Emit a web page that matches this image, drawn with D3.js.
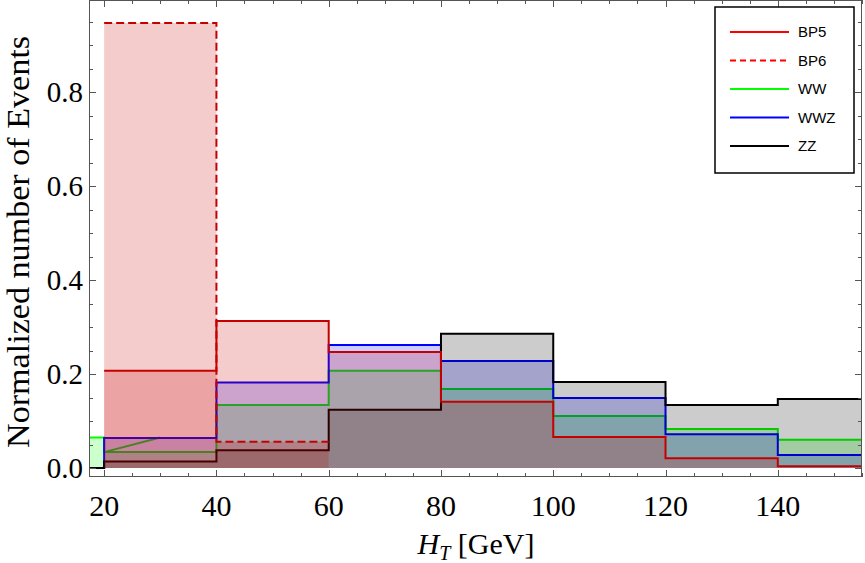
<!DOCTYPE html>
<html>
<head>
<meta charset="utf-8">
<script src="https://cdn.jsdelivr.net/npm/d3@7"></script>
<style>
  body { margin: 0; background: #fff; }
  svg { display: block; }
</style>
</head>
<body>
<svg id="chart"></svg>
<script>
// bin edges of the H_T histogram (GeV)
var binEdges = [0, 20, 40, 60, 80, 100, 120, 140, 160]
// normalized counts per bin, null = bin not plotted
var bp5 = [null, 0.207, 0.313, 0.247, 0.141, 0.066, 0.021, 0.004]
var bp6 = [null, 0.947, 0.056, null, null, null, null, null]
var ww  = [0.065, 0.034, 0.134, 0.207, 0.168, 0.111, 0.083, 0.060]
var wwz = [0, 0.064, 0.182, 0.262, 0.228, 0.149, 0.072, 0.028]
var zz  = [0, 0.014, 0.038, 0.124, 0.286, 0.183, 0.134, 0.147]

var xTicks = [20, 40, 60, 80, 100, 120, 140]
var yTicks = [0, 0.2, 0.4, 0.6, 0.8]
var legendNames = ['BP5', 'BP6', 'WW', 'WWZ', 'ZZ']

var width = 865, height = 563
var plotL = 89, plotR = 862, plotT = 0, plotB = 477

var svg = d3.select('#chart')
    .attr('width', width)
    .attr('height', height)

var x = d3.scaleLinear().domain([17.3, 155]).range([plotL, plotR])
var y = d3.scaleLinear().domain([-0.019, 0.996]).range([plotB, plotT])

svg.append('defs').append('clipPath').attr('id', 'plotclip')
    .append('rect')
    .attr('x', plotL).attr('y', plotT)
    .attr('width', plotR - plotL).attr('height', plotB - plotT)

// turn a list of bin values into step points
function steps(vals) {
    var pts = []
    vals.forEach(function(v, i) {
        if (v === null) return
        pts.push([binEdges[i], v])
        pts.push([binEdges[i + 1], v])
    })
    return pts
}

var line = d3.line().x(function(d) { return x(d[0]) }).y(function(d) { return y(d[1]) })
var area = d3.area().x(function(d) { return x(d[0]) }).y0(y(0)).y1(function(d) { return y(d[1]) })

var plot = svg.append('g').attr('clip-path', 'url(#plotclip)')

// drawing order matters: later fills tint earlier lines
var series = [
    {vals: ww,  line: '#00ff00', fill: 'rgba(0,255,0,0.2)'},
    {vals: wwz, line: '#0000ff', fill: 'rgba(0,0,255,0.2)'},
    {vals: zz,  line: '#000000', fill: 'rgba(0,0,0,0.2)'},
    {vals: bp5, line: '#c40000', fill: 'rgba(200,0,0,0.2)'},
    {vals: bp6, line: '#c40000', fill: 'rgba(200,0,0,0.2)', dash: '8,4'}
]

series.forEach(function(s) {
    var pts = steps(s.vals)
    plot.append('path')
        .attr('d', area(pts))
        .attr('fill', s.fill)
    plot.append('path')
        .attr('d', line(pts))
        .attr('fill', 'none')
        .attr('stroke', s.line)
        .attr('stroke-width', 2)
        .attr('stroke-dasharray', s.dash || null)
    if (s.vals === ww) {
        // little joining stroke the original plot draws in the first bins
        plot.append('path')
            .attr('d', line([[binEdges[1], ww[1]], [(binEdges[1] + binEdges[2]) / 2, ww[0]]]))
            .attr('fill', 'none')
            .attr('stroke', s.line)
            .attr('stroke-width', 2)
    }
})

// frame with ticks on all four sides
var frameColor = '#555'
svg.append('rect')
    .attr('x', plotL + 0.5).attr('y', plotT + 0.5)
    .attr('width', plotR - plotL - 1).attr('height', plotB - plotT - 1)
    .attr('fill', 'none')
    .attr('stroke', frameColor)
    .attr('stroke-width', 1)

var xMinor = d3.range(20, 156, 5)
var yMinor = d3.range(0, 0.99, 0.05)

var tickG = svg.append('g').attr('stroke', frameColor).attr('stroke-width', 1)
xMinor.forEach(function(v) {
    var major = xTicks.indexOf(v) >= 0
    var len = major ? 7 : 4
    var px = Math.round(x(v)) + 0.5
    tickG.append('line').attr('x1', px).attr('x2', px).attr('y1', plotB).attr('y2', plotB - len)
    tickG.append('line').attr('x1', px).attr('x2', px).attr('y1', plotT).attr('y2', plotT + len)
})
yMinor.forEach(function(v, i) {
    var major = i % 4 === 0
    var len = major ? 7 : 4
    var py = Math.round(y(v)) + 0.5
    tickG.append('line').attr('x1', plotL).attr('x2', plotL + len).attr('y1', py).attr('y2', py)
    tickG.append('line').attr('x1', plotR).attr('x2', plotR - len).attr('y1', py).attr('y2', py)
})

var serif = '"Liberation Serif", "Times New Roman", serif'

svg.selectAll('.xlab').data(xTicks).enter().append('text')
    .attr('x', function(d) { return x(d) })
    .attr('y', 516)
    .attr('text-anchor', 'middle')
    .attr('font-family', serif)
    .attr('font-size', 30)
    .text(function(d) { return d })

svg.selectAll('.ylab').data(yTicks).enter().append('text')
    .attr('x', 83)
    .attr('y', function(d) { return y(d) })
    .attr('dy', '0.35em')
    .attr('text-anchor', 'end')
    .attr('font-family', serif)
    .attr('font-size', 29)
    .text(function(d) { return d3.format('.1f')(d) })

// axis titles
svg.append('text')
    .attr('transform', 'translate(29,' + 242 + ') rotate(-90)')
    .attr('text-anchor', 'middle')
    .attr('font-family', serif)
    .attr('font-size', 31)
    .attr('textLength', 412)
    .attr('lengthAdjust', 'spacingAndGlyphs')
    .text('Normalized number of Events')

var xt = svg.append('text')
    .attr('x', 476)
    .attr('y', 554)
    .attr('text-anchor', 'middle')
    .attr('font-family', serif)
    .attr('font-size', 30)
xt.append('tspan').attr('font-style', 'italic').text('H')
xt.append('tspan').attr('font-style', 'italic').attr('font-size', 20).attr('dy', 6).text('T')
xt.append('tspan').attr('dy', -6).text(' [GeV]')

// legend
var legendColors = ['#ff0000', '#ff0000', '#00ff00', '#0000ff', '#000000']
var legend = svg.append('g')
legend.append('rect')
    .attr('x', 715).attr('y', 7)
    .attr('width', 139).attr('height', 166)
    .attr('fill', '#fff')
    .attr('stroke', '#000')
    .attr('stroke-width', 1.5)

var ly = d3.scalePoint().domain(legendNames).range([32, 146])
legendNames.forEach(function(n, i) {
    legend.append('line')
        .attr('x1', 730).attr('x2', 789)
        .attr('y1', ly(n)).attr('y2', ly(n))
        .attr('stroke', legendColors[i])
        .attr('stroke-width', 2)
        .attr('stroke-dasharray', n === 'BP6' ? '6,4' : null)
    legend.append('text')
        .attr('x', 798)
        .attr('y', ly(n))
        .attr('dy', '0.35em')
        .attr('font-family', '"Liberation Sans", Arial, sans-serif')
        .attr('font-size', 15)
        .text(n)
})
</script>
</body>
</html>
